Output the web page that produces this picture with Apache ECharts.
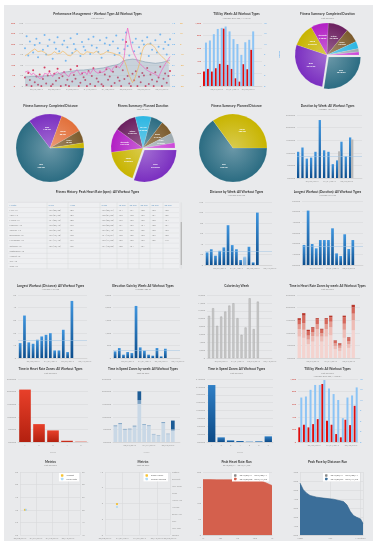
<!DOCTYPE html>
<html><head><meta charset="utf-8">
<script src="https://cdn.jsdelivr.net/npm/echarts@6/dist/echarts.min.js"></script>
<style>
html,body{margin:0;padding:0;background:#fff;}
#wrap{position:relative;width:377px;height:544px;overflow:hidden;background:#fff;}
#panel{position:absolute;left:4px;top:5px;width:369px;height:536px;background:#e9eaec;}
.c{position:absolute;}
</style></head><body><div id="wrap"><div id="panel"></div></div>
<script>
// ================= DATA =================
const days = [];
(function(){const s=Date.UTC(2017,2,8);for(let i=0;i<90;i++){const d=new Date(s+i*864e5);days.push(String(d.getUTCMonth()+1).padStart(2,'0')+'/'+String(d.getUTCDate()).padStart(2,'0')+'/'+d.getUTCFullYear());}})();
const weeks = ['03/06/2017','03/13/2017','03/20/2017','03/27/2017','04/03/2017','04/10/2017','04/17/2017','04/24/2017','05/01/2017','05/08/2017','05/15/2017','05/22/2017','05/29/2017','06/05/2017','06/12/2017','06/19/2017'];

// Performance management (per day)
const pmIF = [0.72,0.95,0.58,0.85,null,0.64,0.78,0.90,0.55,0.82,null,0.69,0.97,0.60,0.76,0.88,null,0.52,0.83,0.71,0.93,0.66,null,0.79,0.86,0.48,0.74,null,0.91,0.63,0.80,0.70,0.99,null,0.57,0.84,0.75,0.68,null,0.89,0.61,0.77,0.94,null,0.73,0.65,0.87,0.54,null,0.81,0.92,0.67,0.78,null,0.85,0.59,0.96,0.72,0.63,null,0.88,0.70,1.02,0.76,0.58,null,0.83,0.66,0.90,null,0.74,0.62,0.86,0.79,null,0.93,0.57,0.81,0.69,null,0.87,0.64,0.75,0.98,null,0.71,0.84,0.60,0.78,0.89];
const pmTSS = [40,5,62,28,0,75,18,45,6,55,0,33,88,12,50,70,0,8,58,25,82,38,0,47,66,5,30,0,78,22,52,35,95,0,15,60,42,28,0,72,10,48,85,0,36,20,65,8,0,55,80,30,45,0,68,14,90,40,25,0,75,33,210,48,12,0,58,27,70,0,44,18,62,50,0,86,9,55,30,0,66,22,40,92,0,35,60,15,48,72];
const pmCTL = [22,22,22,23,23,22,23,23,23,23,23,23,24,24,24,24,25,26,27,28,29,30,31,32,33,34,34,35,35,36,36,37,37,37,38,38,38,39,39,39,40,40,40,41,41,41,42,42,43,44,45,46,47,48,49,50,50,51,53,56,59,61,62,63,63,64,64,64,63,62,61,60,59,58,57,57,56,55,55,54,54,54,55,55,56,57,58,59,60,62];
const pmATL = [33,30,36,32,26,31,27,24,20,18,16,21,30,26,28,33,27,22,29,27,34,32,26,30,35,28,26,22,31,28,32,31,39,32,26,32,34,33,27,35,29,33,41,35,34,30,37,32,28,35,44,40,42,34,42,38,50,47,43,46,55,72,118,138,120,100,85,76,68,60,55,52,48,44,40,38,35,33,31,30,28,24,22,30,38,45,52,58,64,70];
const pmTSB = [-17,-16,-14,-12,-10,-8,-7,-9,-11,-12,-10,-9,-12,-14,-16,-17,-15,-13,-11,-12,-14,-15,-13,-10,-11,-13,-16,-18,-17,-15,-12,-10,-9,-11,-14,-16,-15,-13,-11,-10,-12,-14,-13,-11,-10,-12,-15,-16,-14,-12,-11,-10,-12,-14,-13,-12,-15,-17,-16,-18,-20,-24,-30,-38,-45,-50,-55,-52,-45,-38,-30,-20,-10,-4,-2,0,1,0,-2,-3,-6,-10,-13,-15,-18,-20,-22,-25,-27,-28];

// TSS by week (two copies)
const tssWeek = [229,271,229,282,351,910,335,271,122,69,346,266,574];
const hrsWeek = [12.4,13.0,14.8,16.3,16.6,17.0,15.6,13.4,12.0,8.9,12.5,13.2,15.6];
const tssWeek2 = [232,274,232,284,363,921,337,274,126,74,353,268,574];
const hrsWeek2 = [12.7,13.0,14.9,16.3,16.3,17.7,15.3,13.7,12.0,6.8,12.7,13.3,15.6];

// Pies
const pieCDurNames = ['Run','Bike','Swim','Strength','Other','Brick','XC-Ski','Walk','Rowing'];
const pieCDurVals  = [28.8,29.2,12.3,9.3,10.8,7.5,3.9,1.8,1.6];
const pieCDistNames = ['Run','Bike','Swim','Walk','Other'];
const pieCDistVals  = [520,128,88,48,20];
const piePDurNames = ['Bike','Swim','Strength','Other','XC-Ski','Run','Brick','Walk','Rowing'];
const piePDurVals  = [33,19,13.2,12.1,8.8,6.6,7.7,5.5,2.8];
const piePDistNames = ['Run','Swim'];
const piePDistVals  = [520,280];

// Weekly bars
const durWeek = [10.4,12.1,7.7,8.1,10.4,23.0,11.0,10.4,5.5,7.0,14.4,8.6,16.1];
const durPlanned = [null,null,null,null,null,null,null,null,null,10.6,null,null,15.3];
const distWeek = [24,30,17.7,27,33.5,75.8,37.9,30,9.5,14.5,34.7,5,99.8];
const distPlanned = [null,null,null,null,null,null,null,null,null,16,null,null,null];
const longDur = [1.88,5.1,1.97,1.56,2.34,2.34,2.34,3.44,1.09,0.84,2.88,1.5,2.34];
const longDist = [11.8,33.7,12.4,11.3,14.5,17.1,18.4,19.7,6,6,22.4,4.7,45.3];
const elevWeek = [263,395,132,237,197,2066,421,290,132,92,395,66,368];
const calWeek = [10695,12632,8168,10526,11789,13305,13895,10105,5895,7747,15158,7326,14316];
const hrZ1 = [8.5,8.0,5.5,6.5,8.5,6.5,8.5,9.0,3.5,2.8,8.0,4.0,11.0];
const hrZ2 = [3.0,3.2,1.8,2.2,3.0,2.0,3.0,3.2,1.3,1.2,3.2,1.5,4.0];
const hrZ3 = [1.8,2.6,1.6,1.5,2.0,1.4,2.0,2.2,1.0,0.9,2.4,1.2,2.6];
const hrZ4 = [1.8,3.0,1.8,1.5,1.8,1.3,1.8,1.8,1.0,0.8,2.6,1.2,2.5];
const hrZ5 = [0.7,1.0,0.5,0.5,0.5,0.4,0.5,0.6,0.2,0.2,0.6,0.3,1.0];
const hrZoneCats = ['1','2','3','4','5'];
const hrZoneTotals = [20.8,7.1,4.6,0.5,0.13];
const spdLight = [6.2,7.1,4.9,5.0,6.1,15.1,6.8,6.3,3.0,2.4,7.5,3.1,4.5];
const spdMid = [0.4,0.4,0.3,0.3,0.4,1.5,0.3,0.3,0.2,0.2,0.4,0.2,0.5];
const spdDark = [0,0,0,0,0,3.5,0,0,0,0,0,0,3.5];
const spdZoneCats = ['1','2','3','4','5','6','7'];
const spdZoneTotals = [21.7,1.77,0.63,0.38,0.13,0.25,2.15];

// Metrics
const weightPts = [[7.5,70]];
const pulsePts = [[9,50]];
const sleepPts = [[16.6,5.9]];
const feelPts = [[16.6,'Average']];
const feelCats = ['Terrible','Very Poor','Poor','Below Avg','Average','Above Avg','Good','Very Good','Excellent','Optimal'];

// Peak curves
const hrPeak = [[0,176],[10,176],[20,175.5],[30,175.5],[40,175.5],[50,175],[60,175],[70,175],[80,174.5],[85,172],[90,167],[95,162],[100,157]];
const hrPeakTicks = ['1s','10s','1m','10m','1h'];
const pacePeak = [[0,5.77],[5.3,5.03],[10.6,4.65],[16,4.39],[26.6,4.2],[37,4.1],[53,3.98],[69,3.72],[74.5,3.35],[80,2.6],[85,2.16],[90,1.97],[96,1.79],[100,1.3]];
const paceTicks = ['400m','10K','Marathon'];

// Table
const tblHead = ['Month','5 sec','1 min','5 min','10 min','20 min','30 min','60 min','90 min'];
const tblMonths = ["May '17","April '17","March '17","February '17","January '17","December '16","November '16","October '16","September '16","August '16","July '16","June '16"];
const tblVals = [
["177 (05/28)","183","179 (05/21)","174","171","168","163","158"],
["176 (04/23)","182","178 (04/09)","173","170","167","161","156"],
["174 (03/19)","180","176 (03/26)","172","169","165","160","154"],
["173 (02/12)","179","175 (02/05)","171","167","164","158","151"],
["175 (01/22)","181","177 (01/15)","173","169","166","160","153"],
["172 (12/18)","178","174 (12/04)","170","166","163","157","150"],
["171 (11/13)","177","173 (11/06)","169","165","162","156","149"],
["169 (10/16)","176","171 (10/09)","168","164","161","","" ],
["--","--","--","","","","",""],
["--","--","--","","","","",""],
["--","","--","","","","",""],
["","","","","","","",""]
];

// ================= HELPERS =================
const F = 'Lato, "Open Sans", "DejaVu Sans", sans-serif';
const LAB = '#9a9a9a', GRIDC = '#d5d6d8';
const RED = '#d0463c', LBLUE = '#5aaaf0';
function merge(a,b){for(const k in b){const v=b[k];if(v&&typeof v==='object'&&!Array.isArray(v)&&!(v instanceof Function)&&a[k]&&typeof a[k]==='object'&&!Array.isArray(a[k]))merge(a[k],v);else a[k]=v;}return a;}
function chart(x,y,w,h,opt){
  const d=document.createElement('div');d.className='c';
  d.style.cssText='left:'+x+'px;top:'+y+'px;width:'+w+'px;height:'+h+'px';
  document.getElementById('wrap').appendChild(d);
  const c=echarts.init(d,null,{renderer:'canvas',width:w,height:h});
  opt.animation=false; opt.textStyle={fontFamily:F};
  if(opt.grid) opt.grid.outerBoundsMode='none';
  c.setOption(opt);
}
function ttl(text,sub,top){
  return {text,subtext:sub||'',left:'center',top,padding:0,itemGap:0.6,
    textStyle:{fontSize:3.2,fontWeight:'bold',color:'#3a3a3a',fontFamily:F,lineHeight:3.6},
    subtextStyle:{fontSize:2.3,color:'#8c8c8c',fontFamily:F,lineHeight:2.8}};
}
function yv(o){return merge({type:'value',axisLine:{show:false},axisTick:{show:false},
  axisLabel:{fontSize:2.3,color:LAB,margin:2,fontFamily:F},splitLine:{lineStyle:{color:GRIDC,width:0.5}},
  nameLocation:'middle',nameTextStyle:{fontSize:2.5,color:'#555',fontWeight:'bold',fontFamily:F}},o||{});}
function xc(data,o){return merge({type:'category',data,axisLine:{lineStyle:{color:'#c8c8c8',width:0.5}},axisTick:{show:false},
  axisLabel:{fontSize:2.3,color:LAB,margin:2,fontFamily:F,interval:(i)=>i%4===3}},o||{});}
function grad(top,bot){return {type:'linear',x:0,y:0,x2:0,y2:1,colorStops:[{offset:0,color:top},{offset:1,color:bot}]};}
const BLUEG = grad('#3f95de','#0c4d8c');
function avgLine(v){return {silent:true,symbol:'none',label:{show:false},lineStyle:{color:'#9fc4e4',width:0.5,type:'solid'},data:[{yAxis:v}]};}
function hms(v){const h=Math.floor(v),m=Math.floor((v-h)*60),s=Math.round(((v-h)*60-m)*60)%60;return h+':'+String(m).padStart(2,'0')+':'+String(s).padStart(2,'0');}
function lighten(hex,a){const n=parseInt(hex.slice(1),16);let r=n>>16,g=(n>>8)&255,b=n&255;r=Math.round(r+(255-r)*a);g=Math.round(g+(255-g)*a);b=Math.round(b+(255-b)*a);return 'rgb('+r+','+g+','+b+')';}
const PC = {teal:'#2b6c82',purple:'#7a2ec0',yellow:'#c8b400',magenta:'#b21fc4',maroon:'#6b1f5f',brown:'#7b5b2c',cyan:'#2cb6e2',grey:'#9eabb1',pink:'#cc48d8',orange:'#e2703a'};
function pie(cell,title,sub,top,center,r,names,vals,cols,sel,fmt){
  const data=names.map((n,i)=>({name:n,value:vals[i],selected:i===sel,itemStyle:{color:{type:'radial',x:center[0],y:center[1],r:r,global:true,
    colorStops:[{offset:0,color:lighten(cols[i],0.3)},{offset:1,color:cols[i]}]}}}));
  chart(cell[0],cell[1],cell[2],cell[3],{title:ttl(title,sub,top),
    series:[{type:'pie',center,radius:r,startAngle:0,selectedMode:'single',selectedOffset:2.5,data,minShowLabelAngle:18,
      label:{position:'inside',fontSize:2.2,lineHeight:2.6,color:'#fff',fontWeight:'bold',formatter:p=>p.name+'\n'+fmt(p.value)},
      labelLine:{show:false},emphasis:{disabled:true},itemStyle:{borderColor:'rgba(255,255,255,0.35)',borderWidth:0.3}}]});
}
const wkFmt = v=>v;

// ================= CHARTS =================
// 1 Performance Management
chart(5,5,185,90,{
  title:ttl('Performance Management - Workout Type: All Workout Types','Last 90 days',7.5),
  grid:{left:20,right:20,top:18,bottom:9},
  xAxis:xc(days,{boundaryGap:false,axisLabel:{interval:(i)=>i>=7&&(i-7)%11===0}}),
  yAxis:[
    yv({min:0,max:300,interval:50,position:'left',offset:8,axisLabel:{color:RED},name:'TSS/d',nameGap:9,nameTextStyle:{color:RED}}),
    yv({min:0,max:150,interval:25,position:'left',splitLine:{show:false}}),
    yv({min:0,max:1.2,interval:0.2,position:'right',splitLine:{show:false},axisLabel:{color:LBLUE,formatter:v=>v.toFixed(1)}}),
    yv({min:-60,max:30,interval:15,position:'right',offset:8,splitLine:{show:false},axisLabel:{color:'#f0a838'},name:'TSB',nameGap:7,nameTextStyle:{color:'#f0a838'}})
  ],
  series:[
    {type:'line',yAxisIndex:1,data:pmCTL,symbol:'none',lineStyle:{color:'#7f9bb0',width:0.6},areaStyle:{color:'rgba(130,160,182,0.45)'}},
    {type:'line',yAxisIndex:1,data:pmATL,symbol:'none',lineStyle:{color:'#f062c0',width:0.7}},
    {type:'line',yAxisIndex:3,data:pmTSB,symbol:'none',lineStyle:{color:'#f5b24a',width:0.6}},
    {type:'scatter',yAxisIndex:2,data:pmIF,symbolSize:2,itemStyle:{color:LBLUE}},
    {type:'scatter',yAxisIndex:0,data:pmTSS,symbolSize:2,itemStyle:{color:'#d0103a'}}
  ]
});

// 2 TSS by Week
function tssChart(cell,grid,sub,top,tss,hrs,ncat){
  chart(cell[0],cell[1],cell[2],cell[3],{
    title:ttl('TSS by Week: All Workout Types',sub,top),
    grid,
    xAxis:xc(weeks.slice(0,ncat)),
    yAxis:[
      yv({min:0,max:1000,interval:200,axisLabel:{color:RED},name:'TSS',nameGap:9,nameTextStyle:{color:RED}}),
      yv({min:0,max:18,interval:3,position:'right',splitLine:{show:false},axisLabel:{color:LBLUE},name:'Hours',nameGap:10,nameTextStyle:{color:LBLUE}})
    ],
    series:[
      {type:'bar',data:tss,barWidth:2,barGap:'0%',itemStyle:{color:'#e00d0d'}},
      {type:'bar',yAxisIndex:1,data:hrs,barWidth:2,itemStyle:{color:'#8cc4f5'}}
    ]
  });
}
tssChart([190,5,93,90],{left:13,right:21,top:18,bottom:9},'Average: 357 TSS, 14:17:46',7.5,tssWeek,hrsWeek,15);

// 3 Pie Completed Duration
pie([283,5,89,90],'Fitness Summary: Completed Duration','Last 90 days',7.5,[44,50],32,pieCDurNames,pieCDurVals,
  [PC.teal,PC.purple,PC.yellow,PC.magenta,PC.maroon,PC.brown,PC.cyan,PC.grey,PC.pink],0,hms);

// 4 Pie Completed Distance
pie([5,95,91,90],'Fitness Summary: Completed Distance','',9,[45,53],34,pieCDistNames,pieCDistVals,
  [PC.teal,PC.purple,PC.orange,PC.brown,PC.yellow],-1,v=>v+' km');
// 5 Pie Planned Duration
pie([96,95,94,90],'Fitness Summary: Planned Duration','Last 90 days',9,[47,53],32,piePDurNames,piePDurVals,
  [PC.purple,PC.yellow,PC.magenta,PC.maroon,PC.cyan,PC.teal,PC.brown,PC.grey,PC.pink],0,hms);
// 6 Pie Planned Distance
pie([190,95,93,90],'Fitness Summary: Planned Distance','',9,[43,53],34,piePDistNames,piePDistVals,
  [PC.teal,PC.yellow],-1,v=>v+' km');

// 7 Duration by Week
chart(283,95,89,90,{
  title:ttl('Duration by Week: All Workout Types','Average: 10:48:16',9),
  grid:{left:14,right:10,top:20,bottom:7},
  xAxis:xc(weeks.slice(0,15)),
  yAxis:yv({min:0,max:25,interval:5,axisLabel:{formatter:v=>v+':00:00'}}),
  series:[
    {type:'bar',data:durWeek,barWidth:2.3,barGap:'-10%',itemStyle:{color:BLUEG},markLine:avgLine(8.6)},
    {type:'bar',data:durPlanned,barWidth:2.3,itemStyle:{color:'#b8b8b8'}}
  ]
});

// 8 Table
(function(){
  const g=[];
  const colX=[3,42,63,95,112,123,134,145,158,174];
  const y0=20, dy=5.1;
  const rows=tblMonths.length+1;
  g.push({type:'rect',shape:{x:3,y:y0-2.6,width:171,height:rows*dy},style:{fill:'#eeeff1'}});
  for(let r=0;r<=rows;r++){g.push({type:'line',shape:{x1:3,y1:y0-2.6+r*dy,x2:174,y2:y0-2.6+r*dy},style:{stroke:'#d9dadc',lineWidth:0.4}});}
  for(let c=1;c<colX.length-1;c++){g.push({type:'line',shape:{x1:colX[c],y1:y0-2.6,x2:colX[c],y2:y0-2.6+rows*dy},style:{stroke:'#d2d3d5',lineWidth:0.4}});}
  tblHead.forEach((t,c)=>g.push({type:'text',x:colX[c]+1.5,y:y0,style:{text:t,fontSize:2.3,fill:'#6b9cc6',fontFamily:F,verticalAlign:'middle'}}));
  tblMonths.forEach((m,r)=>{
    const yy=y0+(r+1)*dy;
    g.push({type:'text',x:colX[0]+1.5,y:yy,style:{text:m,fontSize:2.3,fill:'#8a8a8a',fontFamily:F,verticalAlign:'middle'}});
    tblVals[r].forEach((v,c)=>g.push({type:'text',x:colX[c+1]+1.5,y:yy,style:{text:v,fontSize:2.3,fill:'#8a8a8a',fontFamily:F,verticalAlign:'middle'}}));
  });
  g.push({type:'rect',shape:{x:175.5,y:y0-2.6,width:1.6,height:rows*dy},style:{fill:'#e2e3e5'}});
  g.push({type:'rect',shape:{x:175.6,y:37,width:1.4,height:43},style:{fill:'#b9b9b9'}});
  chart(5,185,185,90,{title:ttl('Fitness History: Peak Heart Rate (bpm) : All Workout Types','',4.7),graphic:g});
})();

// 9 Distance by Week
chart(190,185,93,90,{
  title:ttl('Distance by Week: All Workout Types','Average: 33.6 km',5),
  grid:{left:15,right:11,top:17,bottom:10},
  xAxis:xc(weeks),
  yAxis:yv({min:0,max:120,interval:20,name:'km',nameGap:10}),
  series:[
    {type:'bar',data:distWeek,barWidth:2.7,barGap:'-100%',itemStyle:{color:BLUEG},markLine:avgLine(26.5)},
    {type:'bar',data:distPlanned,barWidth:2.7,itemStyle:{color:'rgba(160,200,235,0.8)'}}
  ]
});

// 10 Longest Workout (Duration)
chart(283,185,89,90,{
  title:ttl('Longest Workout (Duration): All Workout Types','Average: 2:21:37',5),
  grid:{left:19,right:9,top:16,bottom:10},
  xAxis:xc(weeks.slice(0,15)),
  yAxis:yv({min:0,max:6,interval:1,axisLabel:{formatter:v=>v+':00:00'}}),
  series:[{type:'bar',data:longDur,barWidth:2.7,itemStyle:{color:BLUEG},markLine:avgLine(1.78)}]
});

// 11 Longest Workout (Distance)
chart(5,275,91,90,{
  title:ttl('Longest Workout (Distance): All Workout Types','Average: 17.7 km',8.7),
  grid:{left:13,right:9,top:20,bottom:7},
  xAxis:xc(weeks),
  yAxis:yv({min:0,max:50,interval:10,name:'km',nameGap:8}),
  series:[{type:'bar',data:longDist,barWidth:2.7,itemStyle:{color:BLUEG},markLine:avgLine(13.7)}]
});

// 12 Elevation Gain by Week
chart(96,275,94,90,{
  title:ttl('Elevation Gain by Week: All Workout Types','Average: 389 m',8.7),
  grid:{left:17,right:10,top:20,bottom:7},
  xAxis:xc(weeks),
  yAxis:yv({min:0,max:2500,interval:500,name:'m',nameGap:12}),
  series:[{type:'bar',data:elevWeek,barWidth:2.7,itemStyle:{color:BLUEG},markLine:avgLine(303)}]
});

// 13 Calories by Week
chart(190,275,93,90,{
  title:ttl('Calories by Week','',8.7),
  grid:{left:17,right:11,top:20,bottom:7},
  xAxis:xc(weeks),
  yAxis:yv({min:0,max:16000,interval:2000,name:'kcal',nameGap:13}),
  series:[{type:'bar',data:calWeek,barWidth:2,itemStyle:{color:'#cbcbcb',borderColor:'#9a9a9a',borderWidth:0.4}}]
});

// 14 Time in HR Zones by week
chart(283,275,89,90,{
  title:ttl('Time in Heart Rate Zones by week: All Workout Types','Last 90 days',8.7),
  grid:{left:14,right:12,top:20,bottom:7},
  xAxis:xc(weeks.slice(0,14)),
  yAxis:yv({min:0,max:25,interval:5,axisLabel:{formatter:v=>v+':00:00'}}),
  series:[
    {type:'bar',stack:'z',data:hrZ1,barWidth:3.3,itemStyle:{color:'#f4d3cf'}},
    {type:'bar',stack:'z',data:hrZ2,itemStyle:{color:'#eebcb5'}},
    {type:'bar',stack:'z',data:hrZ3,itemStyle:{color:'#e49a90'}},
    {type:'bar',stack:'z',data:hrZ4,itemStyle:{color:'#d5675b'}},
    {type:'bar',stack:'z',data:hrZ5,itemStyle:{color:'#b8382c'}}
  ]
});

// 15 Time in HR Zones
chart(5,365,91,90,{
  title:ttl('Time in Heart Rate Zones: All Workout Types','Last 90 days',2.4),
  grid:{left:13,right:8,top:14,bottom:13},
  xAxis:xc(hrZoneCats,{axisLabel:{interval:0},name:'Zones',nameLocation:'middle',nameGap:9,nameTextStyle:{fontSize:2.3,color:'#b0b0b0'}}),
  yAxis:yv({min:0,max:25,interval:5,axisLabel:{formatter:v=>v+':00:00'}}),
  series:[{type:'bar',data:hrZoneTotals,barWidth:'83%',itemStyle:{color:grad('#e8402a','#b3200f')}}]
});

// 16 Time in Speed Zones by week
chart(96,365,94,90,{
  title:ttl('Time in Speed Zones by week: All Workout Types','Last 90 days',2.4),
  grid:{left:17,right:10,top:14,bottom:13},
  xAxis:xc(weeks.slice(0,14),{name:'Week',nameLocation:'middle',nameGap:9,nameTextStyle:{fontSize:2.3,color:'#b0b0b0'}}),
  yAxis:yv({min:0,max:25,interval:5,axisLabel:{formatter:v=>v+':00:00'}}),
  series:[
    {type:'bar',stack:'s',data:spdLight,barWidth:3.7,itemStyle:{color:'#c9d8e6'}},
    {type:'bar',stack:'s',data:spdMid,itemStyle:{color:'#7ea3c4'}},
    {type:'bar',stack:'s',data:spdDark,itemStyle:{color:'#1d5c96'}}
  ]
});

// 17 Time in Speed Zones
chart(190,365,93,90,{
  title:ttl('Time in Speed Zones: All Workout Types','Last 90 days',2.4),
  grid:{left:17,right:10,top:14,bottom:13},
  xAxis:xc(spdZoneCats,{axisLabel:{interval:0},name:'Zones',nameLocation:'middle',nameGap:9,nameTextStyle:{fontSize:2.3,color:'#b0b0b0'}}),
  yAxis:yv({min:0,max:24,interval:3,axisLabel:{formatter:v=>v+':00:00'}}),
  series:[{type:'bar',data:spdZoneTotals,barWidth:'78%',itemStyle:{color:grad('#2f7fc6','#0c4a86')}}]
});

// 18 TSS by Week (second)
tssChart([283,365,89,90],{left:15,right:14,top:14,bottom:13},'Last 90 days\nAverage: 359 TSS, 14:03:21',2.4,tssWeek2,hrsWeek2,13);

// 19 Metrics weight
const legSty = {orient:'vertical',backgroundColor:'#ffffff',padding:[1.2,2],itemGap:1,itemWidth:2.5,itemHeight:2.5,icon:'roundRect',
  textStyle:{fontSize:2.3,color:'#666',fontFamily:F,padding:[0,0,0,-2]}};
const dayTicks = v=>days[Math.min(89,Math.round(v))];
chart(5,455,91,85,{
  title:ttl('Metrics','Last 90 days',5),
  grid:{left:15,right:16,top:17,bottom:5},
  legend:merge({right:17,top:18,data:['Weight','Pulse Rate']},JSON.parse(JSON.stringify(legSty))),
  xAxis:{type:'value',min:0,max:90,interval:24,axisLine:{show:false},axisTick:{show:false},axisLabel:{fontSize:2.3,color:LAB,margin:2,formatter:dayTicks},splitLine:{lineStyle:{color:GRIDC,width:0.5}}},
  yAxis:[yv({min:60,max:85,interval:5,name:'kg',nameGap:10}),yv({min:40,max:65,interval:5,position:'right',splitLine:{show:false}})],
  series:[
    {name:'Weight',type:'scatter',data:weightPts,symbolSize:2.2,itemStyle:{color:'#f5b400'}},
    {name:'Pulse Rate',type:'scatter',yAxisIndex:1,data:pulsePts,symbolSize:2.2,itemStyle:{color:'#9fd3f5'}}
  ]
});

// 20 Metrics sleep
chart(96,455,94,85,{
  title:ttl('Metrics','Last 90 days',5),
  grid:{left:9,right:20,top:17,bottom:5},
  legend:merge({right:22,top:18,data:['Sleep Hours','Overall Feeling']},JSON.parse(JSON.stringify(legSty))),
  xAxis:{type:'value',min:0,max:90,interval:24,axisLine:{show:false},axisTick:{show:false},axisLabel:{fontSize:2.3,color:LAB,margin:2,formatter:dayTicks},splitLine:{lineStyle:{color:GRIDC,width:0.5}}},
  yAxis:[yv({min:0,max:12,interval:3,name:'hours',nameGap:5}),
    {type:'category',data:feelCats,position:'right',boundaryGap:false,axisLine:{show:false},axisTick:{show:false},splitLine:{show:false},axisLabel:{fontSize:2.1,color:LAB,margin:2,interval:0}}],
  series:[
    {name:'Sleep Hours',type:'scatter',data:sleepPts,symbolSize:2.2,itemStyle:{color:'#f5b400'}},
    {name:'Overall Feeling',type:'scatter',yAxisIndex:1,data:feelPts,symbolSize:2.2,itemStyle:{color:'#9fd3f5'}}
  ]
});

// 21 Peak Heart Rate
chart(190,455,93,85,{
  title:ttl('Peak Heart Rate: Run','2016/08/11 - 2016/11/06',5),
  grid:{left:13,right:11,top:17,bottom:5},
  legend:merge({right:14,top:18,data:['2016/08/11 - 2016/08/11','2016/08/08 - 2016/11/06']},JSON.parse(JSON.stringify(legSty))),
  xAxis:{type:'value',min:0,max:100,interval:25,axisLine:{lineStyle:{color:'#c8c8c8',width:0.5}},axisTick:{show:false},splitLine:{show:false},axisLabel:{fontSize:2.3,color:LAB,margin:2,formatter:(v)=>hrPeakTicks[Math.round(v/25)]}},
  yAxis:yv({min:0,max:200,interval:50,name:'bpm',nameGap:8}),
  series:[
    {name:'2016/08/11 - 2016/08/11',type:'line',data:[],itemStyle:{color:'#8a8a8a'}},
    {name:'2016/08/08 - 2016/11/06',type:'line',data:hrPeak,symbol:'none',lineStyle:{color:'#d45a46',width:0.6},areaStyle:{color:'#d4604d',opacity:1},itemStyle:{color:'#d4604d'}}
  ]
});

// 22 Peak Pace
chart(283,455,89,85,{
  title:ttl('Peak Pace by Distance: Run','',5),
  grid:{left:17,right:9,top:17,bottom:5},
  legend:merge({right:12,top:18,data:['2016/08/11 - 2016/08/11','2016/08/07 - 2016/11/06']},JSON.parse(JSON.stringify(legSty))),
  xAxis:{type:'value',min:0,max:100,interval:48,axisLine:{lineStyle:{color:'#c8c8c8',width:0.5}},axisTick:{show:false},splitLine:{lineStyle:{color:GRIDC,width:0.5}},axisLabel:{fontSize:2.3,color:LAB,margin:2,formatter:(v)=>paceTicks[Math.round(v/48)]||''}},
  yAxis:yv({min:0,max:7,interval:1,name:'min/km',nameGap:12,axisLabel:{formatter:v=>v+':00'}}),
  series:[
    {name:'2016/08/11 - 2016/08/11',type:'line',data:[],itemStyle:{color:'#8a8a8a'}},
    {name:'2016/08/07 - 2016/11/06',type:'line',data:pacePeak,symbol:'none',lineStyle:{color:'#2f5f88',width:0.6},areaStyle:{color:'#3b6e99',opacity:1},itemStyle:{color:'#3b6e99'}}
  ]
});
</script></body></html>
